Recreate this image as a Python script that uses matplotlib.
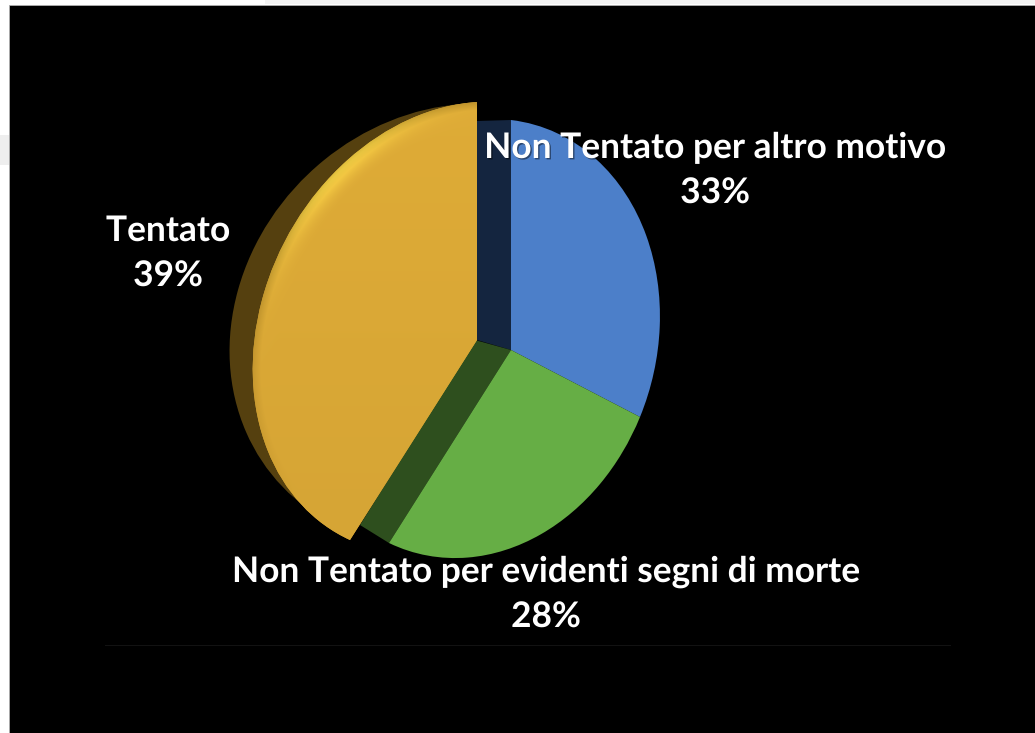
import numpy as np
import matplotlib
matplotlib.use('Agg')
import matplotlib.pyplot as plt
import matplotlib.patheffects as pe
from matplotlib.patches import Polygon, Rectangle, Wedge
from matplotlib.path import Path
from matplotlib.transforms import Transform

plt.rcParams['font.family'] = 'Lato'

# Chart values
categories = ['Non Tentato per altro motivo', 'Non Tentato per evidenti segni di morte', 'Tentato']
values = [33, 28, 39]
percent_labels = ['33%', '28%', '39%']

face_colors = ['#4c7fc9', '#66ae45', '#d6a535']
wall_navy = '#14253f'
wall_green = '#2e4f1e'
wall_brown = '#55400f'


def homography(src, dst):
    # Solve the 8 coefficients of a projective map from 4 point pairs
    rows, rhs = [], []
    for (x, y), (u, v) in zip(src, dst):
        rows.append([x, y, 1, 0, 0, 0, -u * x, -u * y])
        rows.append([0, 0, 0, x, y, 1, -v * x, -v * y])
        rhs += [u, v]
    h = np.linalg.solve(np.array(rows, float), np.array(rhs, float))
    return np.append(h, 1).reshape(3, 3)


class Projective(Transform):
    input_dims = 2
    output_dims = 2
    is_separable = False

    def __init__(self, matrix):
        super().__init__()
        self.matrix = matrix

    def transform_non_affine(self, values):
        pts = np.column_stack([values, np.ones(len(values))]) @ self.matrix.T
        return pts[:, :2] / pts[:, 2:]


def unit(theta):
    t = np.deg2rad(theta)
    return np.cos(t), np.sin(t)


fig = plt.figure(figsize=(10.35, 7.33), dpi=100, facecolor='white')
ax = fig.add_axes([0, 0, 1, 1])

wedges, _ = ax.pie(values, colors=face_colors, startangle=90, counterclock=False)
blue, green, gold = wedges
blue_end = blue.theta1
green_end = green.theta1
gold_mid = (gold.theta1 + gold.theta2) / 2

# Tilted disc in figure pixels
disc = homography([(0, 0), unit(90), unit(blue_end), unit(green_end)],
                  [(511, 350), (511, 120), (640, 417), (389, 543)])
gold_face = homography([(0, 0), unit(90), unit(gold_mid), unit(green_end)],
                       [(477, 340), (477, 102), (262, 300), (350, 540)])
gold_back = homography([(0, 0), unit(90), unit(gold_mid), unit(green_end)],
                       [(470, 335), (462, 104), (238, 290), (335, 525)])

disc_tr = Projective(disc)
for w in (blue, green):
    w.set_transform(disc_tr + ax.transData)
    w.set_linewidth(0)
    w.set_zorder(3)
gold.set_transform(Projective(gold_face) + ax.transData)
gold.set_linewidth(0)
gold.set_zorder(5)

# Dark back of the pulled out slice
back = Wedge((0, 0), 1, gold.theta1, gold.theta2, facecolor=wall_brown, linewidth=0, zorder=4)
ax.add_patch(back)
back.set_transform(Projective(gold_back) + ax.transData)


def radial_wall(theta, center_shift, rim_shift, color):
    # Side wall left open along one radial cut of the disc
    c, r = disc_tr.transform_non_affine(np.array([(0, 0), unit(theta)]))
    corners = [c, r, r + rim_shift, c + center_shift]
    ax.add_patch(Polygon(corners, closed=True, facecolor=color, linewidth=0, zorder=2))


radial_wall(90, (-34, -10), (-34, 1), wall_navy)
radial_wall(green_end, (-36, -10), (-29, -18), wall_green)

# Shading on the gold face: bright rim top left, slightly darker rim lower left
gx, gy = np.meshgrid(np.arange(230, 490), np.arange(95, 550))
inv = np.linalg.inv(gold_face)
q = np.dstack([gx, gy, np.ones_like(gx)]) @ inv.T
qx, qy = q[..., 0] / q[..., 2], q[..., 1] / q[..., 2]
rad = np.hypot(qx, qy)
ang = np.degrees(np.arctan2(qy, qx))
base = np.array(matplotlib.colors.to_rgb(face_colors[2]))
shine = np.array(matplotlib.colors.to_rgb('#fad548'))
shade = np.array(matplotlib.colors.to_rgb('#a87f24'))
rim = np.clip((rad - 0.9) / 0.09, 0, 1) ** 2
top_weight = rim * np.exp(-((ang - 128) / 22) ** 2)
low_weight = 0.7 * np.clip((rad - 0.97) / 0.03, 0, 1) * np.clip((-ang % 360 - 150) / 60, 0, 1)
lift = np.clip((540 - gy) / 445, 0, 1)[..., None] * 0.04
img = base * (1 + lift) + top_weight[..., None] * (shine - base) + low_weight[..., None] * (shade - base)
im = ax.imshow(np.clip(img, 0, 1), extent=(230, 490, 550, 95), origin='upper', aspect='auto', zorder=6,
               interpolation='bilinear')
im.set_clip_path(Path(gold.get_path().vertices, gold.get_path().codes), Projective(gold_face) + ax.transData)

# Slide background
ax.set_aspect('auto')
ax.set_xlim(0, 1035)
ax.set_ylim(733, 0)
ax.add_patch(Rectangle((9, 5), 1026, 728, facecolor='black', edgecolor='#b0b0b0', linewidth=0.6, zorder=1))
ax.add_patch(Rectangle((0, 135), 9, 30, facecolor='#eeeeee', linewidth=0, zorder=0.5))
ax.add_patch(Rectangle((265, 0), 770, 4, facecolor='#f3f3f3', linewidth=0, zorder=0.5))
ax.plot([105, 950], [645, 645], color='#121212', linewidth=0.8, zorder=1.5)

# Labels
shadow = [pe.withSimplePatchShadow(offset=(1, -1), shadow_rgbFace='black', alpha=0.45)]
label_spots = [(715, 148, 193), (546, 572, 617), (168, 231, 276)]
for name, pct, (lx, y1, y2) in zip(categories, percent_labels, label_spots):
    ax.text(lx, y1, name, color='white', fontsize=25.4, fontweight='bold', ha='center', va='center',
            zorder=8, path_effects=shadow)
    ax.text(lx, y2, pct, color='white', fontsize=25.4, fontweight='bold', ha='center', va='center',
            zorder=8, path_effects=shadow)

fig.savefig('out.png', dpi=100, facecolor='white')
